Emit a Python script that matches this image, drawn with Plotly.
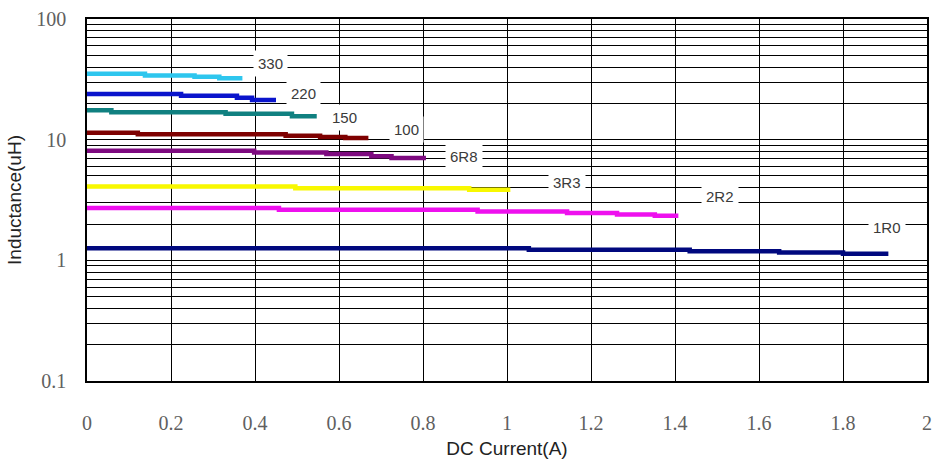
import math
import plotly.graph_objects as go

# Inductance vs DC current for each part value (stepped derating curves)
part_names = ["330", "220", "150", "100", "6R8", "3R3", "2R2", "1R0"]

current_330 = [0, 0.138, 0.256, 0.315, 0.37]
induct_330 = [35.2, 34.1, 33.3, 32.3, 32.3]

current_220 = [0, 0.224, 0.357, 0.393, 0.45]
induct_220 = [23.9, 23.1, 22.2, 21.3, 21.3]

current_150 = [0, 0.058, 0.33, 0.488, 0.547]
induct_150 = [17.5, 16.9, 16.4, 15.6, 15.6]

current_100 = [0, 0.121, 0.473, 0.555, 0.615, 0.67]
induct_100 = [11.4, 11.1, 10.8, 10.5, 10.3, 10.3]

current_6r8 = [0, 0.398, 0.57, 0.677, 0.725, 0.807]
induct_6r8 = [8.09, 7.83, 7.60, 7.27, 7.05, 7.05]

current_3r3 = [0, 0.496, 0.91, 1.008]
induct_3r3 = [4.09, 3.96, 3.84, 3.84]

current_2r2 = [0, 0.457, 0.93, 1.143, 1.262, 1.352, 1.408]
induct_2r2 = [2.71, 2.63, 2.54, 2.47, 2.40, 2.34, 2.34]

current_1r0 = [0, 1.052, 1.435, 1.648, 1.80, 1.908]
induct_1r0 = [1.262, 1.222, 1.19, 1.16, 1.135, 1.135]

series_currents = [current_330, current_220, current_150, current_100,
                   current_6r8, current_3r3, current_2r2, current_1r0]
series_inducts = [induct_330, induct_220, induct_150, induct_100,
                  induct_6r8, induct_3r3, induct_2r2, induct_1r0]
series_colors = ["#2EC6EE", "#0A14CC", "#108080", "#7E0000",
                 "#7E0A80", "#F8F800", "#EE10EE", "#00087E"]

# Label anchor points (A, uH)
label_x = [0.438, 0.516, 0.613, 0.760, 0.897, 1.143, 1.508, 1.905]
label_y = [43.0, 24.0, 15.3, 12.2, 7.23, 4.43, 3.41, 1.87]

x_ticks = [0, 0.2, 0.4, 0.6, 0.8, 1, 1.2, 1.4, 1.6, 1.8, 2]
y_ticks = [0.1, 1, 10, 100]
y_tick_text = ["0.1", "1", "10", "100"]
y_minor = [m * d for d in (0.1, 1, 10) for m in range(2, 10)]

fig = go.Figure()
for name, xs, ys, col in zip(part_names, series_currents, series_inducts, series_colors):
    fig.add_trace(go.Scatter(x=xs, y=ys, mode="lines", name=name,
                             line=dict(color=col, width=4.5, shape="hv")))

# log axis: annotation positions are given in log10 units
for name, lx, ly in zip(part_names, label_x, label_y):
    fig.add_annotation(x=lx, y=math.log10(ly), yref="y", xref="x", text=name, showarrow=False,
                       font=dict(family="Liberation Sans", size=15, color="#3a3a3a"),
                       bgcolor="white", borderpad=4)

serif = "Liberation Serif"
sans = "Liberation Sans"

fig.update_xaxes(range=[0, 2], tickvals=x_ticks, showgrid=True, gridcolor="black", gridwidth=1.4,
                 showline=True, linecolor="black", linewidth=1.6, mirror=True,
                 zeroline=False, ticks="", ticklabelstandoff=23,
                 tickfont=dict(family=serif, size=20, color="#606060"),
                 title=dict(text="DC Current(A)", font=dict(family=sans, size=19, color="#222222"), standoff=9))

fig.update_yaxes(type="log", range=[-1, 2], tickvals=y_ticks, ticktext=y_tick_text,
                 showgrid=True, gridcolor="black", gridwidth=1.4,
                 minor=dict(tickvals=y_minor, showgrid=True, gridcolor="black", gridwidth=1.3, ticks=""),
                 showline=True, linecolor="black", linewidth=1.6, mirror=True,
                 zeroline=False, ticks="", ticklabelstandoff=15,
                 tickfont=dict(family=serif, size=20, color="#606060"),
                 title=dict(text="Inductance(uH)", font=dict(family=sans, size=19, color="#222222"), standoff=10))

fig.update_layout(width=940, height=464, margin=dict(l=87, r=8, t=17, b=79),
                  paper_bgcolor="white", plot_bgcolor="white", showlegend=False)

fig.write_html("out.html")
